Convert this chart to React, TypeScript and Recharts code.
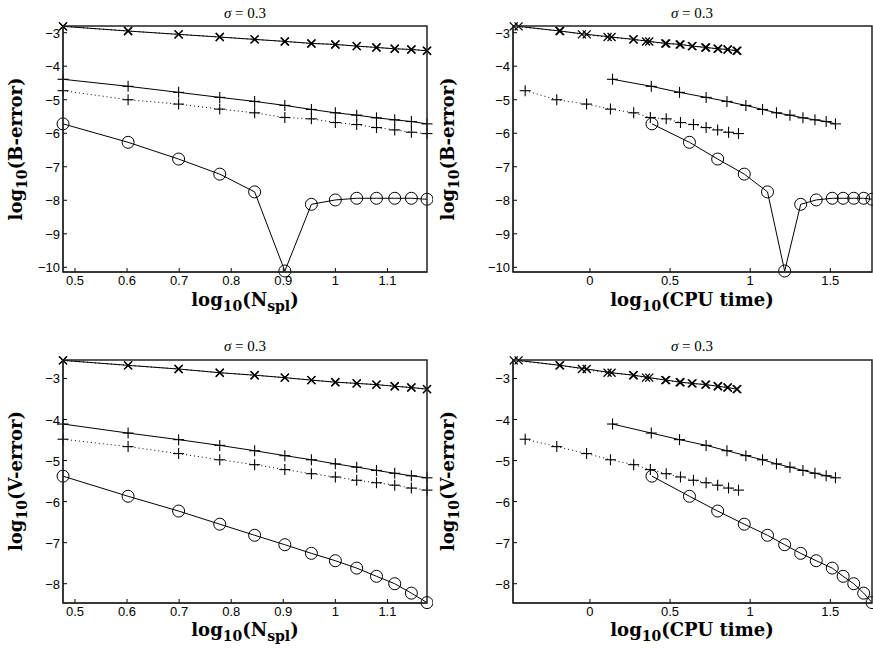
import { LineChart, Line, XAxis, YAxis } from 'recharts'

// x positions: log10 of the sample counts 3..15
const LOG_NSPL = [0.477, 0.602, 0.699, 0.778, 0.845, 0.903, 0.954, 1.0, 1.041, 1.079, 1.114, 1.146, 1.176]

// x positions: log10 of CPU time, one list per method
const CPU_X_SOLID = [-0.445, -0.186, -0.02, 0.135, 0.273, 0.37, 0.476, 0.565, 0.636, 0.725, 0.797, 0.859, 0.915]
const CPU_X_DOTTED = [-0.475, -0.19, -0.05, 0.11, 0.27, 0.35, 0.47, 0.56, 0.64, 0.72, 0.8, 0.86, 0.92]
const CPU_PLUS_SOLID = [0.141, 0.383, 0.559, 0.725, 0.855, 0.973, 1.077, 1.164, 1.248, 1.329, 1.404, 1.474, 1.532]
const CPU_PLUS_DOTTED = [-0.404, -0.207, -0.021, 0.128, 0.273, 0.377, 0.476, 0.565, 0.646, 0.725, 0.797, 0.865, 0.927]
const CPU_CIRCLE = [0.387, 0.621, 0.797, 0.963, 1.108, 1.215, 1.315, 1.412, 1.512, 1.58, 1.646, 1.708, 1.76]

// log10(B-error)
const B_X = [-2.81, -2.95, -3.05, -3.13, -3.2, -3.26, -3.32, -3.35, -3.4, -3.44, -3.48, -3.5, -3.54]
const B_PLUS_SOLID = [-4.39, -4.6, -4.78, -4.93, -5.05, -5.17, -5.29, -5.39, -5.46, -5.54, -5.6, -5.65, -5.72]
const B_PLUS_DOTTED = [-4.73, -5.0, -5.13, -5.28, -5.39, -5.53, -5.57, -5.68, -5.74, -5.83, -5.9, -5.97, -6.01]
const B_CIRCLE = [-5.72, -6.27, -6.77, -7.22, -7.75, -10.11, -8.12, -7.99, -7.94, -7.94, -7.94, -7.94, -7.97]

// log10(V-error)
const V_X = [-2.56, -2.68, -2.77, -2.86, -2.92, -2.98, -3.04, -3.09, -3.12, -3.15, -3.19, -3.22, -3.26]
const V_PLUS_SOLID = [-4.11, -4.33, -4.49, -4.63, -4.76, -4.88, -4.98, -5.08, -5.16, -5.24, -5.31, -5.37, -5.42]
const V_PLUS_DOTTED = [-4.48, -4.66, -4.83, -4.98, -5.1, -5.22, -5.32, -5.4, -5.48, -5.54, -5.6, -5.67, -5.72]
const V_CIRCLE = [-5.38, -5.87, -6.23, -6.55, -6.82, -7.05, -7.26, -7.44, -7.62, -7.82, -8.0, -8.23, -8.46]

const NSPL_TICKS = [0.5, 0.6, 0.7, 0.8, 0.9, 1, 1.1]
const CPU_TICKS = [0, 0.5, 1, 1.5]
const B_TICKS = [-3, -4, -5, -6, -7, -8, -9, -10]
const V_TICKS = [-3, -4, -5, -6, -7, -8]

const NSPL_DOMAIN = [0.477, 1.176]
const CPU_DOMAIN = [-0.48, 1.76]
const B_DOMAIN = [-10.14, -2.8]
const V_DOMAIN = [-8.47, -2.55]

const PAD_L = 55
const PAD_T = 30
const PAD_R = 6
const PAD_B = 30
const TICK_FONT = '"Liberation Sans", Arial, sans-serif'
const LABEL_FONT = '"DejaVu Serif", serif'

// plot boxes [left, top, width, height]
const BOX_TL = [63, 26, 364, 246]
const BOX_TR = [513, 26, 359, 246]
const BOX_BL = [63, 360, 364, 243]
const BOX_BR = [513, 360, 359, 243]

type Marker = 'x' | 'plus' | 'o'
type Series = { xs: number[]; ys: number[]; marker: Marker; dotted?: boolean }

function fmt(v: number) {
  return v < 0 ? '\u2212' + Math.abs(v) : String(v)
}

function zip(xs: number[], ys: number[]) {
  return xs.map((x, i) => ({ x, y: ys[i] }))
}

function drawMarker(p: any, kind: Marker) {
  const { cx, cy, index } = p
  if (cx == null || cy == null) return <g key={index} />
  if (kind === 'o') {
    return <circle key={index} cx={cx} cy={cy} r={6} fill="none" stroke="#000" strokeWidth={1} />
  }
  if (kind === 'plus') {
    const s = 5.5
    return (
      <g key={index} stroke="#000" strokeWidth={1.1}>
        <line x1={cx - s} y1={cy} x2={cx + s} y2={cy} />
        <line x1={cx} y1={cy - s} x2={cx} y2={cy + s} />
      </g>
    )
  }
  const s = 4
  return (
    <g key={index} stroke="#000" strokeWidth={1.3}>
      <line x1={cx - s} y1={cy - s} x2={cx + s} y2={cy + s} />
      <line x1={cx - s} y1={cy + s} x2={cx + s} y2={cy - s} />
    </g>
  )
}

const BottomTick = (p: any) => (
  <g>
    <line x1={p.x} y1={p.y} x2={p.x} y2={p.y - 4} stroke="#000" />
    <text x={p.x} y={p.y + 13} textAnchor="middle" fontSize={13} fontFamily={TICK_FONT} fill="#000">
      {fmt(p.payload.value)}
    </text>
  </g>
)

const LeftTick = (p: any) => (
  <g>
    <line x1={p.x} y1={p.y} x2={p.x + 4} y2={p.y} stroke="#000" />
    <text x={p.x - 3} y={p.y + 5} textAnchor="end" fontSize={13} fontFamily={TICK_FONT} fill="#000">
      {fmt(p.payload.value)}
    </text>
  </g>
)

function Panel({ box, xDomain, xTicks, yDomain, yTicks, series }: {
  box: number[]; xDomain: number[]; xTicks: number[]; yDomain: number[]; yTicks: number[]; series: Series[]
}) {
  const [bx, by, bw, bh] = box
  return (
    <div style={{ position: 'absolute', left: bx - PAD_L, top: by - PAD_T }}>
      <LineChart
        width={PAD_L + bw + PAD_R}
        height={PAD_T + bh + PAD_B}
        margin={{ top: PAD_T, left: PAD_L - 50, right: PAD_R, bottom: PAD_B - 20 }}
      >
        <XAxis type="number" dataKey="x" domain={xDomain} ticks={xTicks} interval={0}
          height={20} tickSize={0} tickMargin={0} tick={BottomTick} stroke="#000" />
        <YAxis type="number" domain={yDomain} ticks={yTicks} interval={0}
          width={50} tickSize={0} tickMargin={0} tick={LeftTick} stroke="#000" />
        {series.map((s, i) => (
          <Line
            key={i}
            data={zip(s.xs, s.ys)}
            dataKey="y"
            type="linear"
            stroke="#000"
            strokeWidth={1}
            strokeDasharray={s.dotted ? '1 3' : undefined}
            dot={(p: any) => drawMarker(p, s.marker)}
            activeDot={false}
            isAnimationActive={false}
          />
        ))}
      </LineChart>
    </div>
  )
}

function AxisLabel({ x, y, main, sub, rest, subRest, tail, rotate }: {
  x: number; y: number; main: string; sub: string; rest: string; subRest?: string; tail?: string; rotate?: boolean
}) {
  return (
    <text
      x={x}
      y={y}
      textAnchor="middle"
      fontFamily={LABEL_FONT}
      fontWeight="bold"
      fontSize={18}
      fill="#000"
      transform={rotate ? `rotate(-90 ${x} ${y})` : undefined}
    >
      <tspan>{main}</tspan>
      <tspan fontSize={14} dy={5}>{sub}</tspan>
      <tspan dy={-5}>{rest}</tspan>
      {subRest ? <tspan fontSize={14} dy={5}>{subRest}</tspan> : null}
      {tail ? <tspan dy={subRest ? -5 : 0}>{tail}</tspan> : null}
    </text>
  )
}

function Title({ x, y }: { x: number; y: number }) {
  return (
    <text x={x} y={y} textAnchor="middle" fontFamily='"Liberation Serif", serif' fontSize={15} fill="#000">
      <tspan fontStyle="italic">σ</tspan> = 0.3
    </text>
  )
}

export default function App() {
  const xsLeft = LOG_NSPL
  const bLeft: Series[] = [
    { xs: xsLeft, ys: B_X, marker: 'x', dotted: true },
    { xs: xsLeft, ys: B_X, marker: 'x' },
    { xs: xsLeft, ys: B_PLUS_DOTTED, marker: 'plus', dotted: true },
    { xs: xsLeft, ys: B_PLUS_SOLID, marker: 'plus' },
    { xs: xsLeft, ys: B_CIRCLE, marker: 'o' },
  ]
  const bRight: Series[] = [
    { xs: CPU_X_DOTTED, ys: B_X, marker: 'x', dotted: true },
    { xs: CPU_X_SOLID, ys: B_X, marker: 'x' },
    { xs: CPU_PLUS_DOTTED, ys: B_PLUS_DOTTED, marker: 'plus', dotted: true },
    { xs: CPU_PLUS_SOLID, ys: B_PLUS_SOLID, marker: 'plus' },
    { xs: CPU_CIRCLE, ys: B_CIRCLE, marker: 'o' },
  ]
  const vLeft: Series[] = [
    { xs: xsLeft, ys: V_X, marker: 'x', dotted: true },
    { xs: xsLeft, ys: V_X, marker: 'x' },
    { xs: xsLeft, ys: V_PLUS_DOTTED, marker: 'plus', dotted: true },
    { xs: xsLeft, ys: V_PLUS_SOLID, marker: 'plus' },
    { xs: xsLeft, ys: V_CIRCLE, marker: 'o' },
  ]
  const vRight: Series[] = [
    { xs: CPU_X_DOTTED, ys: V_X, marker: 'x', dotted: true },
    { xs: CPU_X_SOLID, ys: V_X, marker: 'x' },
    { xs: CPU_PLUS_DOTTED, ys: V_PLUS_DOTTED, marker: 'plus', dotted: true },
    { xs: CPU_PLUS_SOLID, ys: V_PLUS_SOLID, marker: 'plus' },
    { xs: CPU_CIRCLE, ys: V_CIRCLE, marker: 'o' },
  ]

  return (
    <div style={{ position: 'absolute', left: 0, top: 0, width: 873, height: 651, background: '#fff' }}>
      <Panel box={BOX_TL} xDomain={NSPL_DOMAIN} xTicks={NSPL_TICKS} yDomain={B_DOMAIN} yTicks={B_TICKS} series={bLeft} />
      <Panel box={BOX_TR} xDomain={CPU_DOMAIN} xTicks={CPU_TICKS} yDomain={B_DOMAIN} yTicks={B_TICKS} series={bRight} />
      <Panel box={BOX_BL} xDomain={NSPL_DOMAIN} xTicks={NSPL_TICKS} yDomain={V_DOMAIN} yTicks={V_TICKS} series={vLeft} />
      <Panel box={BOX_BR} xDomain={CPU_DOMAIN} xTicks={CPU_TICKS} yDomain={V_DOMAIN} yTicks={V_TICKS} series={vRight} />
      <svg width={873} height={651} style={{ position: 'absolute', left: 0, top: 0 }}>
        <rect x={BOX_TL[0]} y={BOX_TL[1]} width={BOX_TL[2]} height={BOX_TL[3]} fill="none" stroke="#222" strokeWidth={1.5} />
        <rect x={BOX_TR[0]} y={BOX_TR[1]} width={BOX_TR[2]} height={BOX_TR[3]} fill="none" stroke="#222" strokeWidth={1.5} />
        <rect x={BOX_BL[0]} y={BOX_BL[1]} width={BOX_BL[2]} height={BOX_BL[3]} fill="none" stroke="#222" strokeWidth={1.5} />
        <rect x={BOX_BR[0]} y={BOX_BR[1]} width={BOX_BR[2]} height={BOX_BR[3]} fill="none" stroke="#222" strokeWidth={1.5} />
        <Title x={245} y={18} />
        <Title x={692} y={18} />
        <Title x={245} y={351} />
        <Title x={692} y={351} />
        <AxisLabel x={22} y={149} main="log" sub="10" rest="(B-error)" rotate />
        <AxisLabel x={454} y={149} main="log" sub="10" rest="(B-error)" rotate />
        <AxisLabel x={22} y={481} main="log" sub="10" rest="(V-error)" rotate />
        <AxisLabel x={454} y={481} main="log" sub="10" rest="(V-error)" rotate />
        <AxisLabel x={245} y={306} main="log" sub="10" rest="(N" subRest="spl" tail=")" />
        <AxisLabel x={692} y={306} main="log" sub="10" rest="(CPU time)" />
        <AxisLabel x={245} y={636} main="log" sub="10" rest="(N" subRest="spl" tail=")" />
        <AxisLabel x={692} y={636} main="log" sub="10" rest="(CPU time)" />
      </svg>
    </div>
  )
}
